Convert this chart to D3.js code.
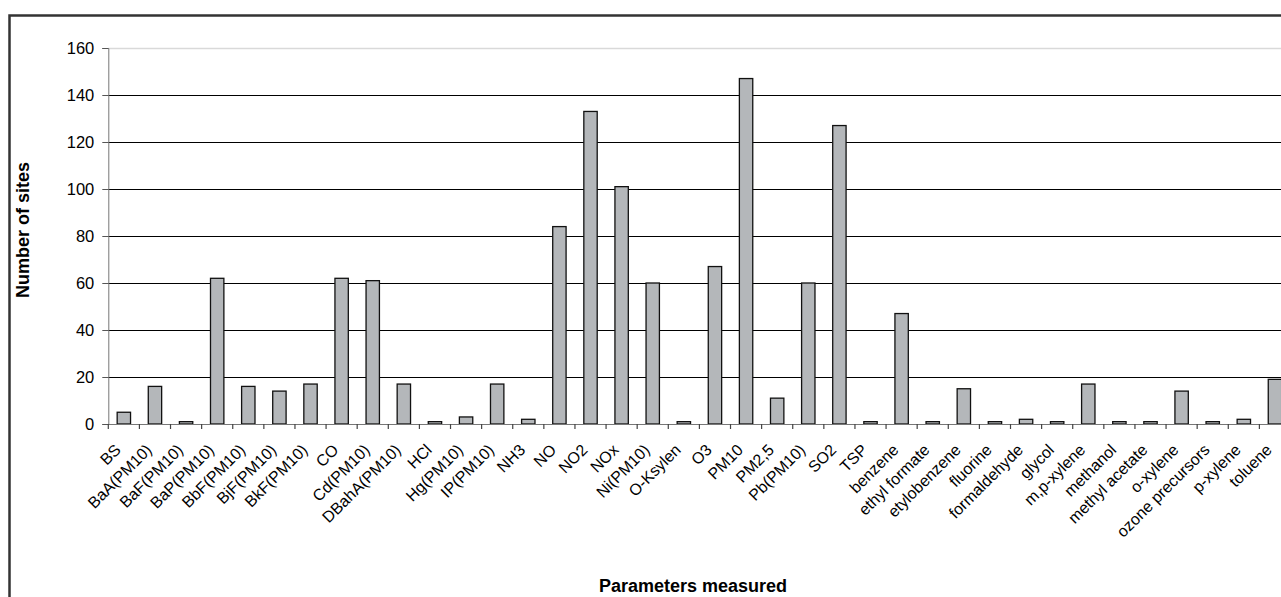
<!DOCTYPE html>
<html>
<head>
<meta charset="utf-8">
<script src="https://cdn.jsdelivr.net/npm/d3@7"></script>
<style>
html,body{margin:0;padding:0;background:#fff;}
svg{display:block;font-family:"Liberation Sans",Arial,sans-serif;}
</style>
</head>
<body>
<svg id="chart" width="1281" height="597"></svg>
<script>
const categories = ["BS","BaA(PM10)","BaF(PM10)","BaP(PM10)","BbF(PM10)","BjF(PM10)","BkF(PM10)","CO","Cd(PM10)","DBahA(PM10)","HCl","Hg(PM10)","IP(PM10)","NH3","NO","NO2","NOx","Ni(PM10)","O-Ksylen","O3","PM10","PM2,5","Pb(PM10)","SO2","TSP","benzene","ethyl formate","etylobenzene","fluorine","formaldehyde","glycol","m,p-xylene","methanol","methyl acetate","o-xylene","ozone precursors","p-xylene","toluene"];
const sites = [5,16,1,62,16,14,17,62,61,17,1,3,17,2,84,133,101,60,1,67,147,11,60,127,1,47,1,15,1,2,1,17,1,1,14,1,2,19];
const yTicks = [0,20,40,60,80,100,120,140,160];
const yTitle = "Number of sites";
const xTitle = "Parameters measured";

const svg = d3.select("#chart");
const pLeft = 108.3, pRight = 1290.5, pTop = 48, pBottom = 424;

// outer frame
svg.append("path")
  .attr("d", `M9.5,598 L9.5,15.5 L1290,15.5`)
  .attr("fill","none").attr("stroke","#333").attr("stroke-width",2.5);

const x = d3.scaleBand().domain(categories).range([pLeft,pRight]).paddingInner(0.57).paddingOuter(0.285);
const y = d3.scaleLinear().domain([0,160]).range([pBottom,pTop]);

// gridlines
svg.append("g").selectAll("line").data(yTicks.filter(d=>d>0)).join("line")
  .attr("x1",pLeft).attr("x2",pRight)
  .attr("y1",d=>Math.round(y(d))+0.5).attr("y2",d=>Math.round(y(d))+0.5)
  .attr("stroke",d=>d===160?"#d9d9d9":"#000").attr("stroke-width",d=>d===160?1.5:1.2);

// y axis
const yAxis = svg.append("g").attr("transform",`translate(${pLeft},0)`)
  .call(d3.axisLeft(y).tickValues(yTicks).tickSize(6).tickPadding(8));
yAxis.select(".domain").attr("stroke","#777");
yAxis.selectAll(".tick line").attr("stroke","#555");
yAxis.selectAll(".tick text").attr("font-size","16.5px").attr("fill","#000")
  .attr("font-family","'Liberation Sans',Arial,sans-serif");

// bars
svg.append("g").selectAll("rect").data(categories).join("rect")
  .attr("x",d=>x(d)).attr("width",x.bandwidth())
  .attr("y",(d,i)=>y(sites[i])).attr("height",(d,i)=>y(0)-y(sites[i]))
  .attr("fill","#b4b7ba").attr("stroke","#111").attr("stroke-width",1.3);

// x axis line
svg.append("line").attr("x1",pLeft).attr("x2",pRight)
  .attr("y1",pBottom+0.5).attr("y2",pBottom+0.5).attr("stroke","#777").attr("stroke-width",1.2);

// category boundary ticks
const step = x.step();
const off = step*x.paddingOuter();
svg.append("g").selectAll("line").data(categories).join("line")
  .attr("x1",d=>x(d)-off).attr("x2",d=>x(d)-off)
  .attr("y1",pBottom).attr("y2",pBottom+5).attr("stroke","#444").attr("stroke-width",1.2);

// category labels
svg.append("g").selectAll("text").data(categories).join("text")
  .attr("transform",d=>`translate(${x(d)+x.bandwidth()/2-10},${pBottom+19}) rotate(-45)`)
  .attr("text-anchor","end").attr("dy","0.7em")
  .attr("font-size","16px").attr("fill","#000")
  .text(d=>d);

// titles
svg.append("text").attr("transform","translate(29,230) rotate(-90)")
  .attr("text-anchor","middle").attr("font-weight","bold").attr("font-size","18px")
  .text(yTitle);
svg.append("text").attr("x",693).attr("y",592)
  .attr("text-anchor","middle").attr("font-weight","bold").attr("font-size","18px")
  .text(xTitle);
</script>
</body>
</html>
